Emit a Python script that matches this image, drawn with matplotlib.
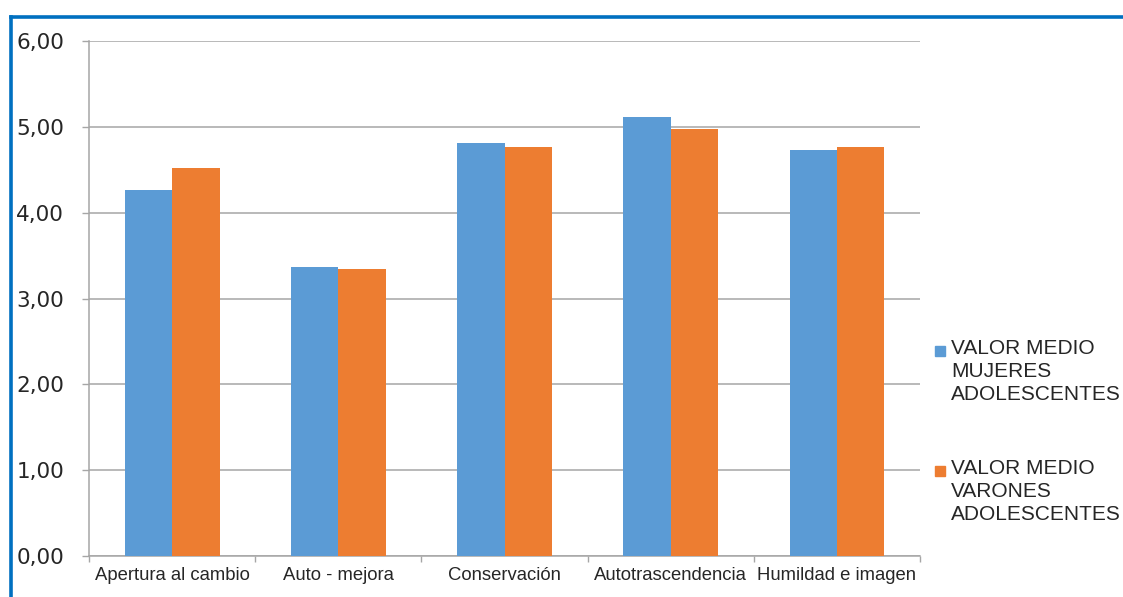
import numpy as np
import matplotlib.pyplot as plt
from matplotlib.lines import Line2D
from matplotlib.patches import Rectangle

# Data
categories = ['Apertura al cambio', 'Auto - mejora', 'Conservación',
              'Autotrascendencia', 'Humildad e imagen']
mujeres = [4.26, 3.37, 4.81, 5.11, 4.73]
varones = [4.52, 3.34, 4.76, 4.97, 4.76]
series_labels = ['VALOR MEDIO\nMUJERES\nADOLESCENTES',
                 'VALOR MEDIO\nVARONES\nADOLESCENTES']
y_ticks = [0, 1, 2, 3, 4, 5, 6]
y_tick_labels = ['0,00', '1,00', '2,00', '3,00', '4,00', '5,00', '6,00']

BLUE = '#5B9BD5'
ORANGE = '#ED7D31'
GRID = '#A6A6A6'
TEXT = '#262626'

W, H = 1123, 597
fig = plt.figure(figsize=(W / 100, H / 100), dpi=100)
ax = fig.add_axes([0.0793, 0.0687, 0.7400, 0.8626])

x = np.arange(len(categories))
width = 0.285
ax.bar(x - width / 2, mujeres, width, color=BLUE, linewidth=0, zorder=3)
ax.bar(x + width / 2, varones, width, color=ORANGE, linewidth=0, zorder=3)

ax.set_xlim(-0.5, len(categories) - 0.5)
ax.set_ylim(0, 6)

# y axis
ax.set_yticks(y_ticks)
ax.set_yticklabels(y_tick_labels, family='DejaVu Sans', fontsize=15.5, color=TEXT)
ax.tick_params(axis='y', length=5, width=1, color=GRID, pad=13)
ax.yaxis.grid(True, color=GRID, linewidth=1.1, zorder=0)

# x axis: labels at centres, tick marks at category boundaries
ax.set_xticks(x)
ax.set_xticklabels(categories, family='Liberation Sans', fontsize=13.3, color=TEXT)
ax.set_xticks(np.arange(len(categories) + 1) - 0.5, minor=True)
ax.tick_params(axis='x', which='major', length=0, pad=8)
ax.tick_params(axis='x', which='minor', length=4, width=1, color=GRID)

for side in ['top', 'right']:
    ax.spines[side].set_visible(False)
for side in ['left', 'bottom']:
    ax.spines[side].set_color(GRID)
    ax.spines[side].set_linewidth(1.1)

# legend on the right: small square beside the first line of each label
legend_tops = [339, 459]  # pixel rows of each entry's text box top
for label, color, top in zip(series_labels, [BLUE, ORANGE], legend_tops):
    fig.add_artist(Rectangle((935 / W, 1 - (top + 17) / H), 10 / W, 10 / H,
                             color=color, transform=fig.transFigure))
    fig.text(951 / W, 1 - top / H, label, ha='left', va='top',
             family='Liberation Sans', fontsize=15, color=TEXT,
             linespacing=1.27)

# blue frame along top and left edges
fig.add_artist(Line2D([0.0095, 1.0], [0.9715, 0.9715], color='#0070C0',
                      linewidth=2.6, transform=fig.transFigure))
fig.add_artist(Line2D([0.0095, 0.0095], [0.0, 0.9715], color='#0070C0',
                      linewidth=2.6, transform=fig.transFigure))

fig.savefig('out.png', dpi=100)
